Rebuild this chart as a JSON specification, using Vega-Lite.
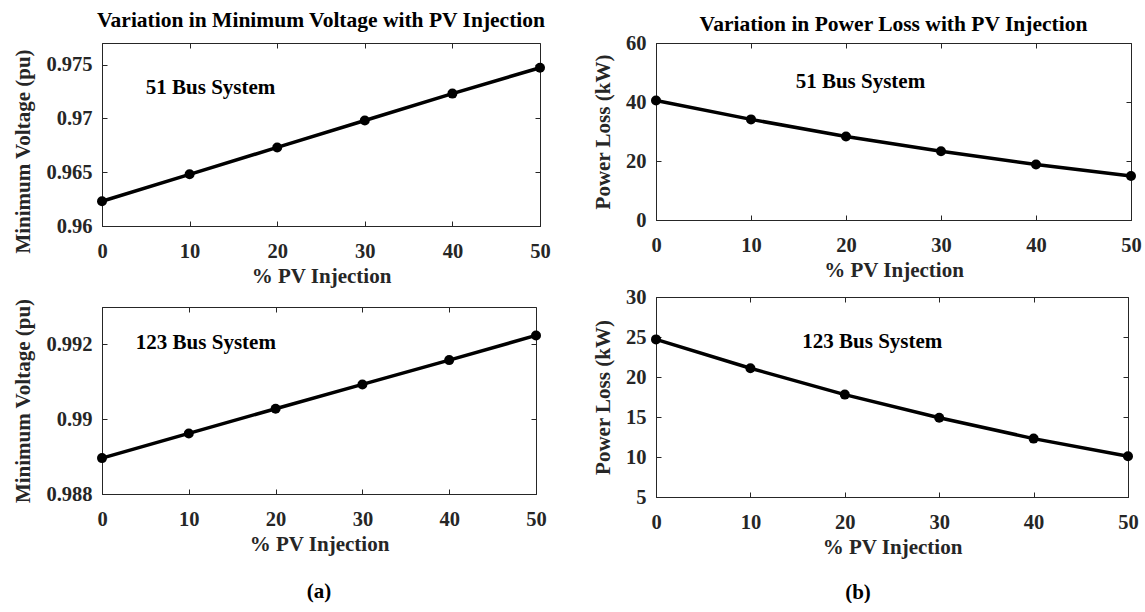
{
  "$schema": "https://vega.github.io/schema/vega-lite/v6.json",
  "background": "white",
  "padding": {"left": 12, "top": 9, "right": 0, "bottom": 0},
  "datasets": {
    "results": [
      {"system": "51", "metric": "vmin", "pv": 0, "value": 0.9623},
      {"system": "51", "metric": "vmin", "pv": 10, "value": 0.9648},
      {"system": "51", "metric": "vmin", "pv": 20, "value": 0.9673},
      {"system": "51", "metric": "vmin", "pv": 30, "value": 0.9698},
      {"system": "51", "metric": "vmin", "pv": 40, "value": 0.9723},
      {"system": "51", "metric": "vmin", "pv": 50, "value": 0.9747},
      {"system": "51", "metric": "loss", "pv": 0, "value": 40.5},
      {"system": "51", "metric": "loss", "pv": 10, "value": 34.1},
      {"system": "51", "metric": "loss", "pv": 20, "value": 28.3},
      {"system": "51", "metric": "loss", "pv": 30, "value": 23.3},
      {"system": "51", "metric": "loss", "pv": 40, "value": 18.8},
      {"system": "51", "metric": "loss", "pv": 50, "value": 14.9},
      {"system": "123", "metric": "vmin", "pv": 0, "value": 0.98896},
      {"system": "123", "metric": "vmin", "pv": 10, "value": 0.98962},
      {"system": "123", "metric": "vmin", "pv": 20, "value": 0.99028},
      {"system": "123", "metric": "vmin", "pv": 30, "value": 0.99093},
      {"system": "123", "metric": "vmin", "pv": 40, "value": 0.99158},
      {"system": "123", "metric": "vmin", "pv": 50, "value": 0.99224},
      {"system": "123", "metric": "loss", "pv": 0, "value": 24.7},
      {"system": "123", "metric": "loss", "pv": 10, "value": 21.1},
      {"system": "123", "metric": "loss", "pv": 20, "value": 17.8},
      {"system": "123", "metric": "loss", "pv": 30, "value": 14.9},
      {"system": "123", "metric": "loss", "pv": 40, "value": 12.3},
      {"system": "123", "metric": "loss", "pv": 50, "value": 10.1}
    ],
    "notes": [
      {"system": "51", "metric": "vmin", "label": "51 Bus System", "pv": 5, "value": 0.9728},
      {"system": "51", "metric": "loss", "label": "51 Bus System", "pv": 14.7, "value": 46.8},
      {"system": "123", "metric": "vmin", "label": "123 Bus System", "pv": 3.9, "value": 0.99203},
      {"system": "123", "metric": "loss", "label": "123 Bus System", "pv": 15.5, "value": 24.4}
    ]
  },
  "config": {
    "font": "Liberation Serif",
    "view": {"stroke": "#262626", "strokeWidth": 1},
    "style": {
      "guide-label": {"font": "Liberation Serif", "fontWeight": "bold"},
      "guide-title": {"font": "Liberation Serif", "fontWeight": "bold"}
    },
    "axis": {
      "grid": false,
      "labelFont": "Liberation Serif", "labelFontWeight": "bold", "labelFontSize": 20.5, "labelColor": "#262626",
      "titleFont": "Liberation Serif", "titleFontWeight": "bold", "titleFontSize": 21, "titleColor": "#262626",
      "domainColor": "#262626", "tickColor": "#262626", "tickSize": -5,
      "labelFlush": false, "labelOverlap": false
    },
    "axisX": {"labelPadding": 20, "titlePadding": 4},
    "axisY": {"labelPadding": 15, "titlePadding": 12},
    "title": {"font": "Liberation Serif", "fontWeight": "bold", "fontSize": 21.5, "color": "#000"}
  },
  "columns": 2,
  "align": "none",
  "spacing": 41,
  "concat": [
    {
      "spacing": 10,
      "vconcat": [
        {
          "width": 438, "height": 183,
          "title": {"text": "Variation in Minimum Voltage with PV Injection", "offset": 11},
          "resolve": {"axis": {"x": "independent", "y": "independent"}},
          "layer": [
            {
              "data": {"name": "results"},
              "transform": [{"filter": "datum.system == '51' && datum.metric == 'vmin'"}],
              "mark": {"type": "line", "color": "#000", "strokeWidth": 3.5},
              "encoding": {
                "x": {"field": "pv", "type": "quantitative", "scale": {"domain": [0, 50], "nice": false}, "axis": {"orient": "bottom", "title": "% PV Injection", "values": [0, 10, 20, 30, 40, 50]}},
                "y": {"field": "value", "type": "quantitative", "scale": {"domain": [0.96, 0.977], "nice": false, "zero": false}, "axis": {"orient": "left", "title": "Minimum Voltage (pu)", "titleY": 108, "values": [0.96, 0.965, 0.97, 0.975], "format": "~g"}}
              }
            },
            {
              "data": {"name": "results"},
              "transform": [{"filter": "datum.system == '51' && datum.metric == 'vmin'"}],
              "mark": {"type": "circle", "color": "#000", "size": 100, "opacity": 1},
              "encoding": {
                "x": {"field": "pv", "type": "quantitative", "axis": {"orient": "top", "labels": false, "title": null, "domain": false, "values": [0, 10, 20, 30, 40, 50]}},
                "y": {"field": "value", "type": "quantitative", "axis": {"orient": "right", "labels": false, "title": null, "domain": false, "values": [0.96, 0.965, 0.97, 0.975]}}
              }
            },
            {
              "data": {"name": "notes"},
              "transform": [{"filter": "datum.system == '51' && datum.metric == 'vmin'"}],
              "mark": {"type": "text", "align": "left", "baseline": "middle", "font": "Liberation Serif", "fontWeight": "bold", "fontSize": 21, "color": "#000"},
              "encoding": {
                "x": {"field": "pv", "type": "quantitative", "axis": null},
                "y": {"field": "value", "type": "quantitative", "axis": null},
                "text": {"field": "label"}
              }
            }
          ]
        },
        {
          "width": 434, "height": 187,
          "title": {"text": "(a)", "orient": "bottom", "offset": 26, "fontSize": 21, "fontWeight": "bold", "color": "#000"},
          "resolve": {"axis": {"x": "independent", "y": "independent"}},
          "layer": [
            {
              "data": {"name": "results"},
              "transform": [{"filter": "datum.system == '123' && datum.metric == 'vmin'"}],
              "mark": {"type": "line", "color": "#000", "strokeWidth": 3.5},
              "encoding": {
                "x": {"field": "pv", "type": "quantitative", "scale": {"domain": [0, 50], "nice": false}, "axis": {"orient": "bottom", "title": "% PV Injection", "values": [0, 10, 20, 30, 40, 50]}},
                "y": {"field": "value", "type": "quantitative", "scale": {"domain": [0.988, 0.993], "nice": false, "zero": false}, "axis": {"orient": "left", "title": "Minimum Voltage (pu)", "values": [0.988, 0.99, 0.992], "format": "~g"}}
              }
            },
            {
              "data": {"name": "results"},
              "transform": [{"filter": "datum.system == '123' && datum.metric == 'vmin'"}],
              "mark": {"type": "circle", "color": "#000", "size": 100, "opacity": 1},
              "encoding": {
                "x": {"field": "pv", "type": "quantitative", "axis": {"orient": "top", "labels": false, "title": null, "domain": false, "values": [0, 10, 20, 30, 40, 50]}},
                "y": {"field": "value", "type": "quantitative", "axis": {"orient": "right", "labels": false, "title": null, "domain": false, "values": [0.988, 0.99, 0.992]}}
              }
            },
            {
              "data": {"name": "notes"},
              "transform": [{"filter": "datum.system == '123' && datum.metric == 'vmin'"}],
              "mark": {"type": "text", "align": "left", "baseline": "middle", "font": "Liberation Serif", "fontWeight": "bold", "fontSize": 21, "color": "#000"},
              "encoding": {
                "x": {"field": "pv", "type": "quantitative", "axis": null},
                "y": {"field": "value", "type": "quantitative", "axis": null},
                "text": {"field": "label"}
              }
            }
          ]
        }
      ]
    },
    {
      "spacing": 5,
      "vconcat": [
        {
          "width": 475, "height": 177,
          "title": {"text": "Variation in Power Loss with PV Injection", "offset": -2},
          "resolve": {"axis": {"x": "independent", "y": "independent"}},
          "layer": [
            {
              "data": {"name": "results"},
              "transform": [{"filter": "datum.system == '51' && datum.metric == 'loss'"}],
              "mark": {"type": "line", "color": "#000", "strokeWidth": 3.5},
              "encoding": {
                "x": {"field": "pv", "type": "quantitative", "scale": {"domain": [0, 50], "nice": false}, "axis": {"orient": "bottom", "title": "% PV Injection", "values": [0, 10, 20, 30, 40, 50]}},
                "y": {"field": "value", "type": "quantitative", "scale": {"domain": [0, 60], "nice": false}, "axis": {"orient": "left", "title": "Power Loss (kW)", "values": [0, 20, 40, 60]}}
              }
            },
            {
              "data": {"name": "results"},
              "transform": [{"filter": "datum.system == '51' && datum.metric == 'loss'"}],
              "mark": {"type": "circle", "color": "#000", "size": 100, "opacity": 1},
              "encoding": {
                "x": {"field": "pv", "type": "quantitative", "axis": {"orient": "top", "labels": false, "title": null, "domain": false, "values": [0, 10, 20, 30, 40, 50]}},
                "y": {"field": "value", "type": "quantitative", "axis": {"orient": "right", "labels": false, "title": null, "domain": false, "values": [0, 20, 40, 60]}}
              }
            },
            {
              "data": {"name": "notes"},
              "transform": [{"filter": "datum.system == '51' && datum.metric == 'loss'"}],
              "mark": {"type": "text", "align": "left", "baseline": "middle", "font": "Liberation Serif", "fontWeight": "bold", "fontSize": 21, "color": "#000"},
              "encoding": {
                "x": {"field": "pv", "type": "quantitative", "axis": null},
                "y": {"field": "value", "type": "quantitative", "axis": null},
                "text": {"field": "label"}
              }
            }
          ]
        },
        {
          "width": 472, "height": 200,
          "title": {"text": "(b)", "orient": "bottom", "offset": 24, "dx": -34, "fontSize": 21, "fontWeight": "bold", "color": "#000"},
          "resolve": {"axis": {"x": "independent", "y": "independent"}},
          "layer": [
            {
              "data": {"name": "results"},
              "transform": [{"filter": "datum.system == '123' && datum.metric == 'loss'"}],
              "mark": {"type": "line", "color": "#000", "strokeWidth": 3.5},
              "encoding": {
                "x": {"field": "pv", "type": "quantitative", "scale": {"domain": [0, 50], "nice": false}, "axis": {"orient": "bottom", "title": "% PV Injection", "values": [0, 10, 20, 30, 40, 50]}},
                "y": {"field": "value", "type": "quantitative", "scale": {"domain": [5, 30], "nice": false, "zero": false}, "axis": {"orient": "left", "title": "Power Loss (kW)", "values": [5, 10, 15, 20, 25, 30]}}
              }
            },
            {
              "data": {"name": "results"},
              "transform": [{"filter": "datum.system == '123' && datum.metric == 'loss'"}],
              "mark": {"type": "circle", "color": "#000", "size": 100, "opacity": 1},
              "encoding": {
                "x": {"field": "pv", "type": "quantitative", "axis": {"orient": "top", "labels": false, "title": null, "domain": false, "values": [0, 10, 20, 30, 40, 50]}},
                "y": {"field": "value", "type": "quantitative", "axis": {"orient": "right", "labels": false, "title": null, "domain": false, "values": [5, 10, 15, 20, 25, 30]}}
              }
            },
            {
              "data": {"name": "notes"},
              "transform": [{"filter": "datum.system == '123' && datum.metric == 'loss'"}],
              "mark": {"type": "text", "align": "left", "baseline": "middle", "font": "Liberation Serif", "fontWeight": "bold", "fontSize": 21, "color": "#000"},
              "encoding": {
                "x": {"field": "pv", "type": "quantitative", "axis": null},
                "y": {"field": "value", "type": "quantitative", "axis": null},
                "text": {"field": "label"}
              }
            }
          ]
        }
      ]
    }
  ]
}
